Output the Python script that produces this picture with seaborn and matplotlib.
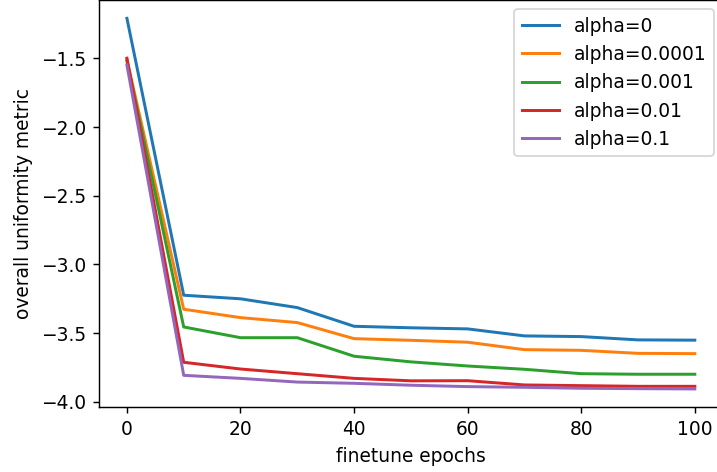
import matplotlib
matplotlib.use("Agg")
import matplotlib.pyplot as plt
import seaborn as sns
import pandas as pd

epochs = [0, 10, 20, 30, 40, 50, 60, 70, 80, 90, 100]
alpha_labels = ["alpha=0", "alpha=0.0001", "alpha=0.001", "alpha=0.01", "alpha=0.1"]
alpha_0 = [-1.21, -3.225, -3.251, -3.315, -3.451, -3.462, -3.470, -3.521, -3.526, -3.550, -3.552]
alpha_0001 = [-1.51, -3.327, -3.388, -3.424, -3.541, -3.553, -3.567, -3.621, -3.626, -3.648, -3.650]
alpha_001 = [-1.52, -3.456, -3.534, -3.534, -3.669, -3.710, -3.740, -3.764, -3.796, -3.800, -3.800]
alpha_01 = [-1.50, -3.713, -3.762, -3.796, -3.830, -3.848, -3.847, -3.878, -3.883, -3.888, -3.888]
alpha_1 = [-1.55, -3.808, -3.830, -3.857, -3.866, -3.880, -3.890, -3.895, -3.902, -3.905, -3.907]

series = [alpha_0, alpha_0001, alpha_001, alpha_01, alpha_1]
rows = []
for lab, vals in zip(alpha_labels, series):
    for e, v in zip(epochs, vals):
        rows.append({"epoch": e, "metric": v, "alpha": lab})
df = pd.DataFrame(rows)

plt.rcParams["font.size"] = 10.3
dpi = 130
fig = plt.figure(figsize=(717.2 / dpi, 472.2 / dpi), dpi=dpi)
ax = fig.add_axes([98.5 / 717, 1 - 407.5 / 472, (723 - 98.5) / 717, 407.5 / 472])
sns.lineplot(data=df, x="epoch", y="metric", hue="alpha", hue_order=alpha_labels,
             palette="tab10", ax=ax, linewidth=1.65)
ax.set_xlabel("finetune epochs")
ax.set_ylabel("overall uniformity metric")
ax.set_xticks([0, 20, 40, 60, 80, 100])
ax.set_yticks([-4.0, -3.5, -3.0, -2.5, -2.0, -1.5])
ax.legend(loc="upper right", title=None)
fig.savefig("out.png", dpi=dpi)
